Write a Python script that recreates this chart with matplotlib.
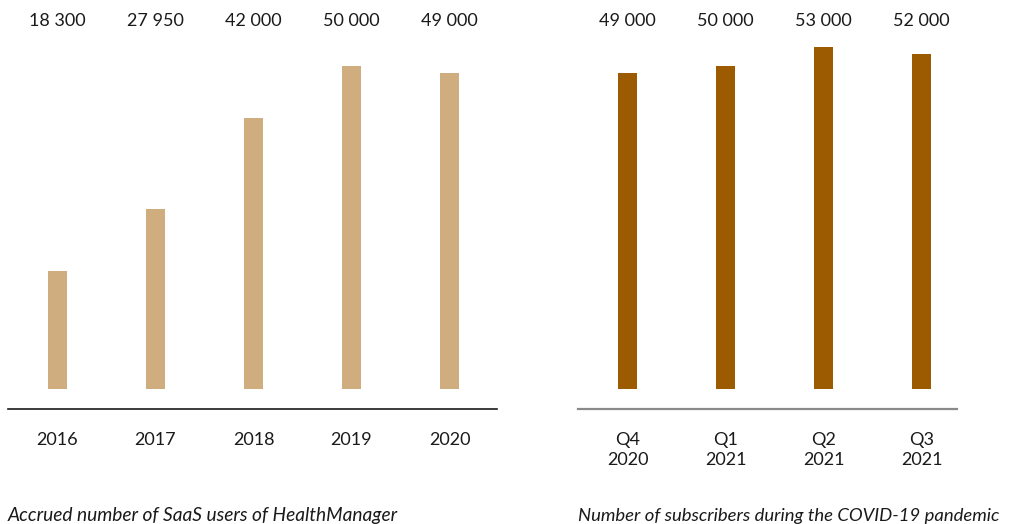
import matplotlib.pyplot as plt
from matplotlib.transforms import blended_transform_factory

plt.rcParams['font.family'] = ['Lato', 'DejaVu Sans']

years = ['2016', '2017', '2018', '2019', '2020']
saas_users = [18300, 27950, 42000, 50000, 49000]
quarters = ['Q4\n2020', 'Q1\n2021', 'Q2\n2021', 'Q3\n2021']
subscribers = [49000, 50000, 53000, 52000]

left_caption = 'Accrued number of SaaS users of HealthManager'
right_caption = 'Number of subscribers during the COVID-19 pandemic'

W, H = 1010, 524
fig = plt.figure(figsize=(W / 100, H / 100), dpi=100)


def fmt(v):
    return '{:,}'.format(v).replace(',', ' ')


def panel(x0, x1, n, values, labels, color, line_color, line_w, caption, cap_size):
    # axes spans from pixel x0 to x1, bottom line at y=409, top at y=40
    ax = fig.add_axes([x0 / W, (H - 409) / H, (x1 - x0) / W, 369 / H])
    pos = list(range(n))
    ax.bar(pos, values, width=0.194, color=color, bottom=0)
    left_pad = (57.5 - 8) / 98
    ax.set_xlim(-left_pad, (x1 - x0) / 98 - left_pad)
    ax.set_ylim(-3100, 54100)
    for s in ['top', 'left', 'right']:
        ax.spines[s].set_visible(False)
    ax.spines['bottom'].set_color(line_color)
    ax.spines['bottom'].set_linewidth(line_w)
    ax.set_yticks([])
    ax.set_xticks(pos)
    ax.set_xticklabels(labels, fontsize=13, color='#1a1a1a', linespacing=1.35)
    ax.tick_params(axis='x', length=0, pad=16.5)
    tr = blended_transform_factory(ax.transData, fig.transFigure)
    for p, v in zip(pos, values):
        ax.text(p, 1 - 20.5 / H, fmt(v), transform=tr, ha='center', va='center',
                fontsize=13, color='#1a1a1a')
    fig.text(x0 / W, 1 - 516 / H, caption, ha='left', va='center',
             fontsize=cap_size, style='italic', color='#1a1a1a')
    return ax


panel(8, 497, 5, saas_users, years, '#cfad7e', '#1a1a1a', 1.2, left_caption, 13.8)
panel(578, 957, 4, subscribers, quarters, '#9c5b00', '#8a8a8a', 1.6, right_caption, 13.3)

fig.savefig('out.png', dpi=100)
